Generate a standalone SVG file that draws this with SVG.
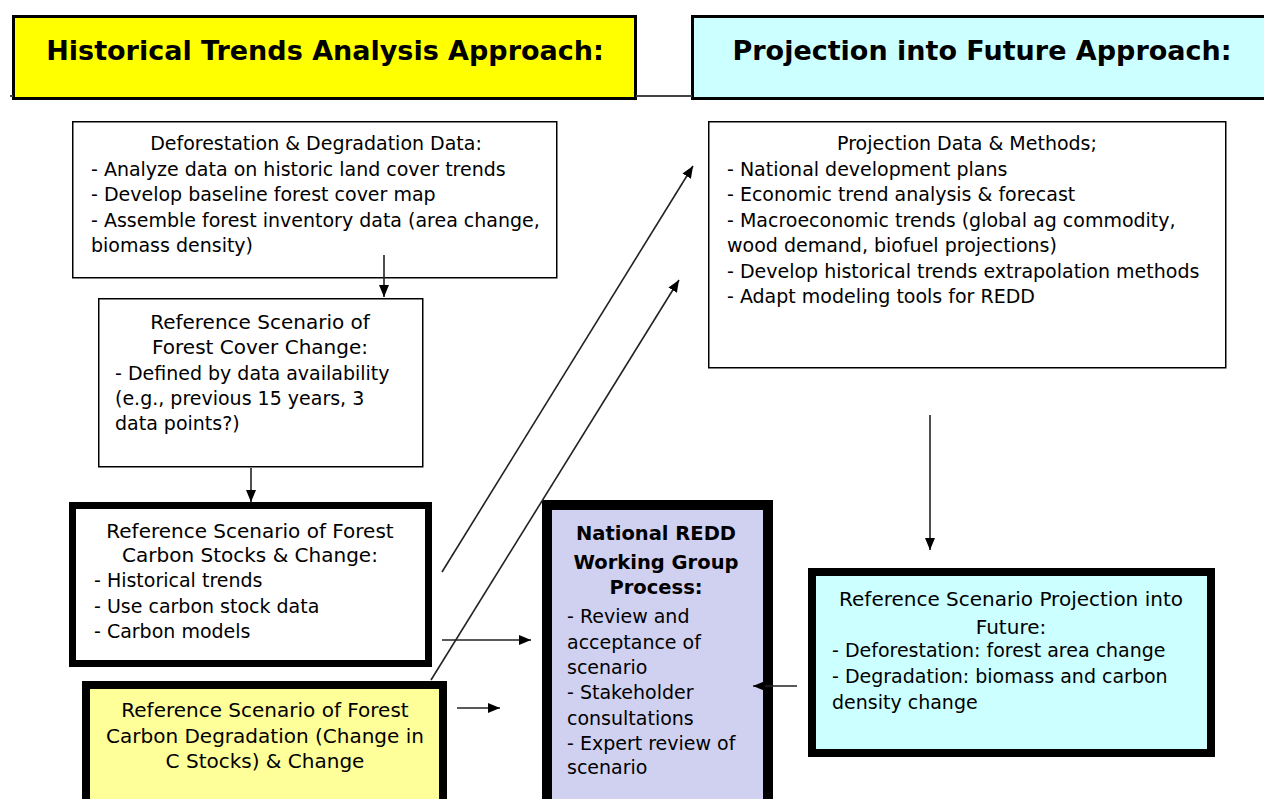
<svg xmlns="http://www.w3.org/2000/svg" width="1264" height="799" viewBox="0 0 1264 799">
  <defs>
    <style>
      .t { font-family: "DejaVu Sans", "Verdana", sans-serif; fill: #000; }
      .c { text-anchor: middle; }
      .h { font-size: 27px; font-weight: bold; }
      .b { font-size: 19px; }
      .tt { font-size: 20px; }
      .nt { font-size: 19.5px; font-weight: bold; }
      .thin { fill: #fff; stroke: #000; stroke-width: 1.5; }
      .conn { stroke: #222; stroke-width: 1.6; fill: none; }
    </style>
    <marker id="ah" viewBox="0 0 12 10" refX="12" refY="5" markerWidth="12" markerHeight="10" markerUnits="userSpaceOnUse" orient="auto">
      <path d="M0,0 L12,5 L0,10 z" fill="#000"/>
    </marker>
  </defs>
  <rect width="1264" height="799" fill="#fff"/>

  <g id="header-historical">
    <rect x="13.5" y="16.5" width="622" height="82" fill="#ffff00" stroke="#000" stroke-width="3"/>
    <text class="t c h" x="325" y="60">Historical Trends Analysis Approach:</text>
  </g>

  <g id="header-projection">
    <rect x="692.5" y="16.5" width="575" height="82" fill="#ccffff" stroke="#000" stroke-width="3"/>
    <text class="t c h" x="982" y="60">Projection into Future Approach:</text>
  </g>

  <g id="deforestation-data">
    <rect class="thin" x="72.75" y="121.75" width="484" height="156"/>
    <text class="t c b" x="316" y="150">Deforestation &amp; Degradation Data:</text>
    <text class="t b" x="91" y="176">- Analyze data on historic land cover trends</text>
    <text class="t b" x="91" y="201">- Develop baseline forest cover map</text>
    <text class="t b" x="91" y="227">- Assemble forest inventory data (area change,</text>
    <text class="t b" x="91" y="252">biomass density)</text>
  </g>

  <g id="forest-cover-change">
    <rect class="thin" x="98.75" y="298.75" width="324" height="168"/>
    <text class="t c tt" x="260" y="329">Reference Scenario of</text>
    <text class="t c tt" x="260" y="354">Forest Cover Change:</text>
    <text class="t b" x="115" y="380">- Defined by data availability</text>
    <text class="t b" x="115" y="405">(e.g., previous 15 years, 3</text>
    <text class="t b" x="115" y="430">data points?)</text>
  </g>

  <g id="carbon-stocks">
    <rect x="72.5" y="505.5" width="356" height="158" fill="#fff" stroke="#000" stroke-width="7"/>
    <text class="t c tt" x="250" y="538">Reference Scenario of Forest</text>
    <text class="t c tt" x="250" y="562">Carbon Stocks &amp; Change:</text>
    <text class="t b" x="94" y="587">- Historical trends</text>
    <text class="t b" x="94" y="613">- Use carbon stock data</text>
    <text class="t b" x="94" y="638">- Carbon models</text>
  </g>

  <g id="carbon-degradation">
    <rect x="86" y="685" width="357" height="130" fill="#ffff99" stroke="#000" stroke-width="8"/>
    <text class="t c tt" x="265" y="717">Reference Scenario of Forest</text>
    <text class="t c tt" x="265" y="743">Carbon Degradation (Change in</text>
    <text class="t c tt" x="265" y="768">C Stocks) &amp; Change</text>
  </g>

  <g id="redd-working-group">
    <rect x="547" y="505" width="221" height="310" fill="#d0d0f0" stroke="#000" stroke-width="10"/>
    <text class="t c nt" x="656" y="540">National REDD</text>
    <text class="t c nt" x="656" y="569">Working Group</text>
    <text class="t c nt" x="656" y="594">Process:</text>
    <text class="t b" x="567" y="623">- Review and</text>
    <text class="t b" x="567" y="649">acceptance of</text>
    <text class="t b" x="567" y="674">scenario</text>
    <text class="t b" x="567" y="699">- Stakeholder</text>
    <text class="t b" x="567" y="725">consultations</text>
    <text class="t b" x="567" y="750">- Expert review of</text>
    <text class="t b" x="567" y="774">scenario</text>
  </g>

  <g id="projection-data">
    <rect class="thin" x="708.75" y="121.75" width="517" height="246"/>
    <text class="t c b" x="967" y="150">Projection Data &amp; Methods;</text>
    <text class="t b" x="727" y="176">- National development plans</text>
    <text class="t b" x="727" y="201">- Economic trend analysis &amp; forecast</text>
    <text class="t b" x="727" y="227">- Macroeconomic trends (global ag commodity,</text>
    <text class="t b" x="727" y="252">wood demand, biofuel projections)</text>
    <text class="t b" x="727" y="278">- Develop historical trends extrapolation methods</text>
    <text class="t b" x="727" y="303">- Adapt modeling tools for REDD</text>
  </g>

  <g id="projection-future">
    <rect x="812" y="572" width="399" height="181" fill="#ccffff" stroke="#000" stroke-width="8"/>
    <text class="t c tt" x="1011" y="606">Reference Scenario Projection into</text>
    <text class="t c tt" x="1011" y="634">Future:</text>
    <text class="t b" x="832" y="657">- Deforestation: forest area change</text>
    <text class="t b" x="832" y="683">- Degradation:  biomass and carbon</text>
    <text class="t b" x="832" y="709">density change</text>
  </g>

  <g id="connectors">
    <path d="M10,96 H13 M636,96 H692" stroke="#444" stroke-width="2" fill="none"/>
    <line class="conn" x1="384" y1="255" x2="384" y2="297" marker-end="url(#ah)"/>
    <line class="conn" x1="251" y1="468" x2="251" y2="502" marker-end="url(#ah)"/>
    <line class="conn" x1="442" y1="572" x2="693" y2="166" marker-end="url(#ah)"/>
    <line class="conn" x1="431" y1="680" x2="679" y2="280" marker-end="url(#ah)"/>
    <line class="conn" x1="442" y1="640" x2="531" y2="640" marker-end="url(#ah)"/>
    <line class="conn" x1="457" y1="708" x2="500" y2="708" marker-end="url(#ah)"/>
    <line class="conn" x1="930" y1="415" x2="930" y2="550" marker-end="url(#ah)"/>
    <line class="conn" x1="797" y1="686" x2="753" y2="686" marker-end="url(#ah)"/>
  </g>
</svg>
